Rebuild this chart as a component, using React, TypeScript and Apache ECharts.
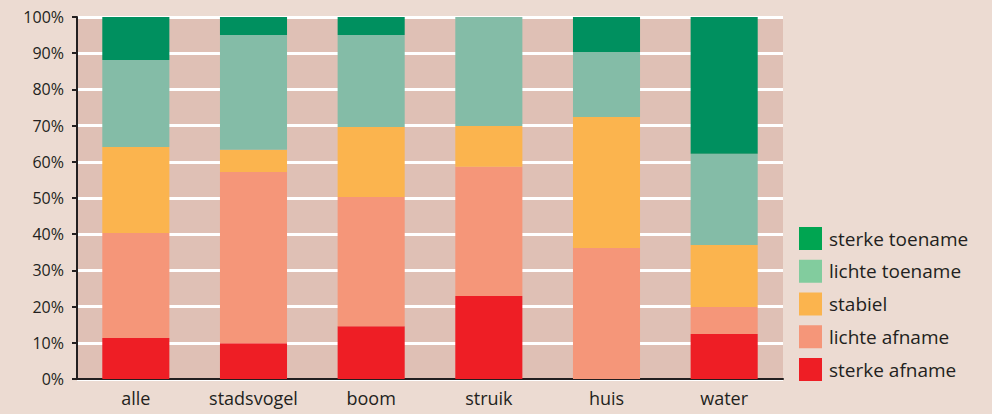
import React, { useEffect, useRef } from "react";
import * as echarts from "echarts";

const categories = ["alle", "stadsvogel", "boom", "struik", "huis", "water"];
const sterkeAfname = [11.3, 9.9, 14.6, 22.9, 0, 12.4];
const lichteAfname = [29.0, 47.3, 35.7, 35.7, 36.2, 7.5];
const stabiel = [23.8, 6.1, 19.3, 11.3, 36.2, 17.1];
const lichteToename = [24.0, 31.7, 25.4, 30.1, 17.9, 25.2];
const sterkeToename = [11.9, 5.0, 5.0, 0, 9.7, 37.8];
const yTicks = [0, 10, 20, 30, 40, 50, 60, 70, 80, 90, 100];

const FONT = "Open Sans";
const TEXT = "#231f20";

export default function App() {
  const ref = useRef<HTMLDivElement>(null);
  useEffect(() => {
    if (!ref.current) return;
    const chart = echarts.init(ref.current, null, { renderer: "svg" });
    const mk = (name: string, data: number[], color: string) => ({
      name,
      type: "bar",
      stack: "total",
      data,
      barWidth: "57%",
      itemStyle: { color },
    });
    chart.setOption({
      animation: false,
      backgroundColor: "#ecdbd2",
      textStyle: { fontFamily: FONT },
      grid: {
        left: 77,
        right: 209,
        top: 17,
        bottom: 35,
        show: true,
        backgroundColor: "#dfc0b5",
        borderWidth: 0,
      },
      legend: {
        orient: "vertical",
        left: 799,
        top: 227,
        padding: 0,
        itemWidth: 23,
        itemHeight: 23,
        itemGap: 9.75,
        icon: "rect",
        textStyle: { fontFamily: FONT, fontSize: 19, color: TEXT, padding: [0, 0, 0, 2] },
        data: [
          { name: "sterke toename", itemStyle: { color: "#00a551" } },
          { name: "lichte toename", itemStyle: { color: "#82cc9e" } },
          { name: "stabiel", itemStyle: { color: "#fbb44e" } },
          { name: "lichte afname", itemStyle: { color: "#f59679" } },
          { name: "sterke afname", itemStyle: { color: "#ee1e25" } },
        ],
      },
      xAxis: {
        type: "category",
        data: categories,
        axisLine: { show: true, lineStyle: { color: TEXT, width: 2 } },
        axisTick: { show: false },
        axisLabel: { fontFamily: FONT, fontSize: 18, color: TEXT, margin: 10 },
      },
      yAxis: {
        type: "value",
        min: 0,
        max: 100,
        interval: 10,
        axisLine: { show: true, lineStyle: { color: TEXT, width: 2 } },
        axisTick: { show: true, length: 5, lineStyle: { color: TEXT, width: 2 } },
        axisLabel: {
          fontFamily: FONT,
          fontSize: 16,
          color: TEXT,
          margin: 13,
          formatter: (v: number) => (yTicks.includes(v) ? v + "%" : ""),
        },
        splitLine: { show: true, lineStyle: { color: "#ffffff", width: 3 } },
      },
      series: [
        mk("sterke afname", sterkeAfname, "#ee1e25"),
        mk("lichte afname", lichteAfname, "#f59679"),
        mk("stabiel", stabiel, "#fbb44e"),
        mk("lichte toename", lichteToename, "#84bca7"),
        mk("sterke toename", sterkeToename, "#00905f"),
      ],
    });
    return () => chart.dispose();
  }, []);
  return (
    <div
      ref={ref}
      style={{ position: "fixed", left: 0, top: 0, width: 992, height: 414 }}
    />
  );
}
